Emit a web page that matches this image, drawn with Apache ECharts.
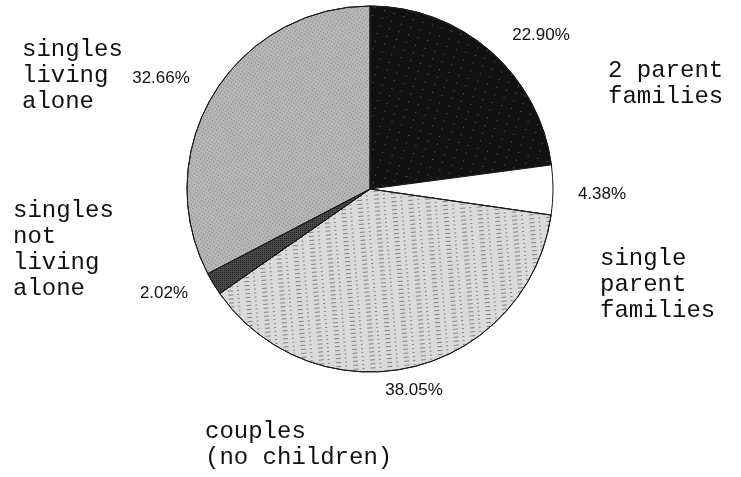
<!DOCTYPE html>
<html>
<head>
<meta charset="utf-8">
<title>Household types</title>
<script src="https://cdn.jsdelivr.net/npm/echarts@6/dist/echarts.min.js"></script>
<style>
  html, body { margin: 0; padding: 0; background: #fff; }
</style>
</head>
<body>
<div id="main" style="width: 741px; height: 477px;"></div>
<script type="text/javascript">
// data, clockwise from 12 o'clock
var categories = ['2 parent\nfamilies', 'single\nparent\nfamilies', 'couples\n(no children)', 'singles\nnot\nliving\nalone', 'singles\nliving\nalone'];
var shares = [22.90, 4.38, 38.05, 2.02, 32.66];

// greys standing in for the scanned hatch patterns
var fills = ['#121212', '#ffffff', '#dadada', '#4a4a4a', '#b6b6b6'];
var decals = [
    { symbol: 'rect', symbolSize: 1, color: 'rgba(255,255,255,0.35)', dashArrayX: [[1, 9]], dashArrayY: [1, 7], rotation: 0.3 },
    null,
    { symbol: 'rect', symbolSize: 1, color: 'rgba(0,0,0,0.4)', dashArrayX: [[5, 4, 2, 6]], dashArrayY: [1, 3], rotation: -0.08 },
    { symbol: 'rect', symbolSize: 1, color: 'rgba(0,0,0,0.5)', dashArrayX: [[1, 1]], dashArrayY: [1, 1], rotation: 0 },
    { symbol: 'rect', symbolSize: 1, color: 'rgba(0,0,0,0.3)', dashArrayX: [[1, 2]], dashArrayY: [1, 2], rotation: 0.6 }
];

// where the labels sit on the page (left x / centre y)
var pctPos = [[541, 35], [602, 194], [414, 390], [164, 293], [161, 78]];
var namePos = [[608, 84], [600, 285], [205, 445], [13, 250], [22, 76]];

var myChart = echarts.init(document.getElementById('main'), null, { renderer: 'canvas' });

var pieData = [];
for (var i = 0; i < shares.length; i++) {
    var st = { color: fills[i] };
    if (decals[i]) st.decal = decals[i];
    pieData.push({ name: categories[i], value: shares[i], itemStyle: st });
}

var option = {
    backgroundColor: '#ffffff',
    animation: false,
    series: [
        {
            name: 'pct',
            type: 'pie',
            center: [370, 189],
            radius: 183,
            startAngle: 90,
            clockwise: true,
            avoidLabelOverlap: false,
            itemStyle: { borderColor: '#1a1a1a', borderWidth: 1 },
            label: {
                show: true,
                position: 'outside',
                fontFamily: 'Liberation Sans',
                fontSize: 17,
                color: '#111',
                formatter: function (p) { return p.value.toFixed(2) + '%'; }
            },
            labelLine: { show: false },
            labelLayout: function (p) {
                return { x: pctPos[p.dataIndex][0], y: pctPos[p.dataIndex][1], align: 'center', verticalAlign: 'middle' };
            },
            emphasis: { disabled: true },
            data: pieData
        },
        {
            name: 'names',
            type: 'pie',
            center: [370, 189],
            radius: 183,
            startAngle: 90,
            clockwise: true,
            silent: true,
            avoidLabelOverlap: false,
            itemStyle: { color: 'rgba(0,0,0,0)', borderWidth: 0 },
            label: {
                show: true,
                position: 'outside',
                fontFamily: 'Liberation Mono',
                fontSize: 24,
                lineHeight: 26,
                color: '#111',
                formatter: '{b}'
            },
            labelLine: { show: false },
            labelLayout: function (p) {
                return { x: namePos[p.dataIndex][0], y: namePos[p.dataIndex][1], align: 'left', verticalAlign: 'middle' };
            },
            emphasis: { disabled: true },
            data: categories.map(function (c, i) { return { name: c, value: shares[i] }; })
        }
    ]
};

myChart.setOption(option);
</script>
</body>
</html>
